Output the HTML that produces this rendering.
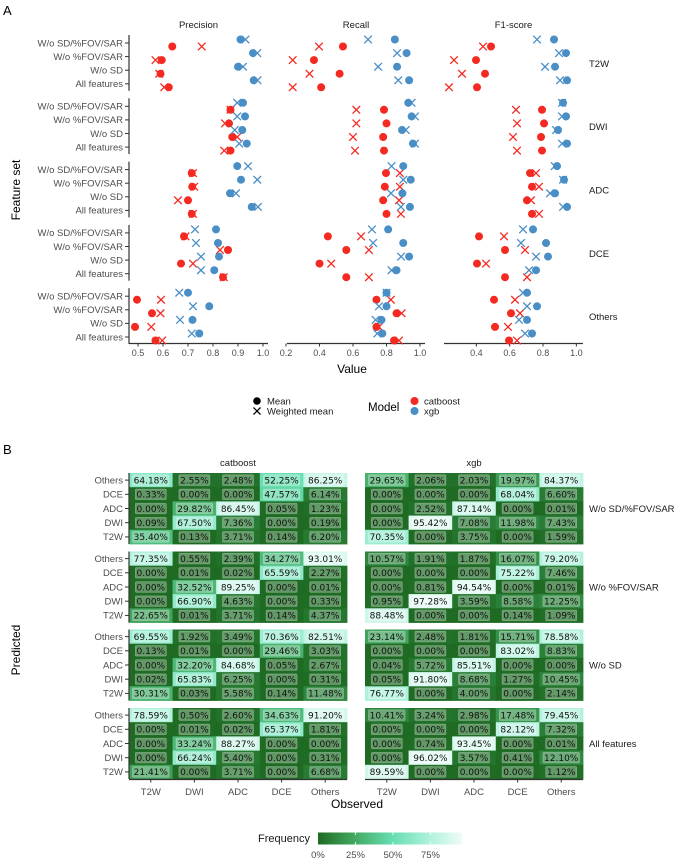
<!DOCTYPE html>
<html><head><meta charset="utf-8"><style>
body{margin:0;background:#fff;}
svg{display:block;font-family:"Liberation Sans",sans-serif;}
</style></head><body>
<svg id="fig" width="685" height="862" viewBox="0 0 685 862" xmlns="http://www.w3.org/2000/svg">
<text x="3" y="15" font-size="13" fill="#000">A</text>
<text x="3" y="454" font-size="13" fill="#000">B</text>
<g id="topPanel"></g>
<g id="bottom"></g>
</svg>
<script>
// ---------- Panel A data ----------
const groups = ["T2W","DWI","ADC","DCE","Others"];
const featureSets = ["W/o SD/%FOV/SAR","W/o %FOV/SAR","W/o SD","All features"];
const metrics = ["Precision","Recall","F1-score"];
const precCatMean = [[0.637,0.595,0.59,0.623],[0.87,0.864,0.877,0.87],[0.715,0.717,0.70,0.715],[0.684,0.86,0.672,0.84],[0.496,0.556,0.488,0.57]];
const precCatW    = [[0.755,0.57,0.585,0.605],[0.87,0.848,0.897,0.845],[0.72,0.725,0.66,0.72],[0.69,0.828,0.72,0.843],[0.592,0.59,0.553,0.597]];
const precXgbMean = [[0.91,0.96,0.90,0.963],[0.92,0.928,0.917,0.935],[0.897,0.912,0.868,0.955],[0.812,0.82,0.824,0.805],[0.70,0.785,0.718,0.745]];
const precXgbW    = [[0.93,0.977,0.92,0.978],[0.897,0.897,0.887,0.905],[0.94,0.977,0.892,0.98],[0.728,0.732,0.752,0.752],[0.665,0.72,0.668,0.715]];
const recCatMean = [[0.54,0.367,0.52,0.41],[0.785,0.80,0.78,0.785],[0.797,0.79,0.78,0.80],[0.45,0.56,0.40,0.56],[0.74,0.86,0.74,0.845]];
const recCatW    = [[0.397,0.24,0.34,0.24],[0.62,0.62,0.60,0.612],[0.88,0.88,0.875,0.886],[0.648,0.695,0.47,0.695],[0.826,0.89,0.755,0.875]];
const recXgbMean = [[0.85,0.92,0.863,0.935],[0.93,0.95,0.893,0.958],[0.90,0.945,0.895,0.94],[0.81,0.90,0.935,0.86],[0.80,0.80,0.77,0.775]];
const recXgbW    = [[0.69,0.863,0.75,0.87],[0.95,0.97,0.915,0.97],[0.83,0.90,0.827,0.886],[0.713,0.72,0.887,0.83],[0.80,0.755,0.735,0.745]];
const f1CatMean = [[0.488,0.398,0.452,0.404],[0.794,0.806,0.788,0.794],[0.722,0.734,0.704,0.734],[0.416,0.572,0.404,0.572],[0.506,0.608,0.512,0.596]];
const f1CatW    = [[0.44,0.266,0.314,0.236],[0.638,0.644,0.62,0.644],[0.758,0.776,0.728,0.776],[0.566,0.692,0.458,0.704],[0.632,0.662,0.59,0.644]];
const f1XgbMean = [[0.866,0.938,0.872,0.944],[0.92,0.938,0.89,0.944],[0.884,0.926,0.872,0.944],[0.74,0.818,0.83,0.758],[0.704,0.764,0.704,0.734]];
const f1XgbW    = [[0.764,0.896,0.812,0.902],[0.914,0.914,0.878,0.914],[0.87,0.92,0.842,0.92],[0.68,0.668,0.758,0.716],[0.68,0.704,0.656,0.692]];
const precTicks = [0.5,0.6,0.7,0.8,0.9,1.0];
const recTicks = [0.2,0.4,0.6,0.8,1.0];
const f1Ticks = [0.4,0.6,0.8,1.0];

// ---------- Panel B data ----------
const predLabels = ["Others","DCE","ADC","DWI","T2W"];
const obsLabels = ["T2W","DWI","ADC","DCE","Others"];
const models = ["catboost","xgb"];
const legendTicks = ["0%","25%","50%","75%"];
const cat1 = [[64.18,2.55,2.48,52.25,86.25],[0.33,0.00,0.00,47.57,6.14],[0.00,29.82,86.45,0.05,1.23],[0.09,67.50,7.36,0.00,0.19],[35.40,0.13,3.71,0.14,6.20]];
const cat2 = [[77.35,0.55,2.39,34.27,93.01],[0.00,0.01,0.02,65.59,2.27],[0.00,32.52,89.25,0.00,0.01],[0.00,66.90,4.63,0.00,0.33],[22.65,0.01,3.71,0.14,4.37]];
const cat3 = [[69.55,1.92,3.49,70.36,82.51],[0.13,0.01,0.00,29.46,3.03],[0.00,32.20,84.68,0.05,2.67],[0.02,65.83,6.25,0.00,0.31],[30.31,0.03,5.58,0.14,11.48]];
const cat4 = [[78.59,0.50,2.60,34.63,91.20],[0.00,0.01,0.02,65.37,1.81],[0.00,33.24,88.27,0.00,0.00],[0.00,66.24,5.40,0.00,0.31],[21.41,0.00,3.71,0.00,6.68]];
const xgb1 = [[29.65,2.06,2.03,19.97,84.37],[0.00,0.00,0.00,68.04,6.60],[0.00,2.52,87.14,0.00,0.01],[0.00,95.42,7.08,11.98,7.43],[70.35,0.00,3.75,0.00,1.59]];
const xgb2 = [[10.57,1.91,1.87,16.07,79.20],[0.00,0.00,0.00,75.22,7.46],[0.00,0.81,94.54,0.00,0.01],[0.95,97.28,3.59,8.58,12.25],[88.48,0.00,0.00,0.14,1.09]];
const xgb3 = [[23.14,2.48,1.81,15.71,78.58],[0.00,0.00,0.00,83.02,8.83],[0.04,5.72,85.51,0.00,0.00],[0.05,91.80,8.68,1.27,10.45],[76.77,0.00,4.00,0.00,2.14]];
const xgb4 = [[10.41,3.24,2.98,17.48,79.45],[0.00,0.00,0.00,82.12,7.32],[0.00,0.74,93.45,0.00,0.01],[0.00,96.02,3.57,0.41,12.10],[89.59,0.00,0.00,0.00,1.12]];

const NS="http://www.w3.org/2000/svg";
function mk(parent, tag, attrs, txt){const el=document.createElementNS(NS,tag);for(const k in attrs)el.setAttribute(k,attrs[k]);if(txt!==undefined)el.textContent=txt;parent.appendChild(el);return el;}
const RED="#f42a22", BLUE="#4a8ec6", GREY="#4d4d4d";

// ---------- Panel A ----------
const topG=document.getElementById('topPanel');
const scales=[
 {x0:129,x1:268,f:v=>138+(v-0.5)*250,ticks:precTicks},
 {x0:287,x1:425,f:v=>286+(v-0.2)*167.5,ticks:recTicks},
 {x0:444,x1:583,f:v=>443+(v-0.2)*166.7,ticks:f1Ticks}];
const series=[[precCatMean,precCatW,precXgbMean,precXgbW],[recCatMean,recCatW,recXgbMean,recXgbW],[f1CatMean,f1CatW,f1XgbMean,f1XgbW]];
const rowY=(g,r)=>43+63.3*g+13.6*r;
metrics.forEach((m,mi)=>{
  const s=scales[mi];
  const t=mk(topG,'text',{x:(s.x0+s.x1)/2,y:28,'font-size':9.5,fill:'#1a1a1a','text-anchor':'middle'},m);
  
  
  const ax=mk(topG,'line',{x1:s.x0,x2:s.x1,y1:343.5,y2:343.5,stroke:'#333','stroke-width':1.2});
  
  
  s.ticks.forEach(tv=>{
    const x=s.f(tv);
    mk(topG,'line',{x1:x,x2:x,y1:343.5,y2:346.5,stroke:'#333','stroke-width':1});
    const tl=mk(topG,'text',{x:x,y:356,'font-size':9,fill:GREY,'text-anchor':'middle'},tv.toFixed(1));
    
    
  });
  groups.forEach((g,gi)=>{
    for(let r=0;r<4;r++){
      const y=rowY(gi,r);
      const defs=[[0,RED,'dot',3.5],[1,RED,'x',3.5],[2,BLUE,'dot',-3.5],[3,BLUE,'x',-3.5]];
      defs.forEach(([k,col,shape,dy])=>{
        const x=s.f(series[mi][k][gi][r]), yy=y+dy;
        let el;
        if(shape==='dot'){
          el=mk(topG,'circle',{cx:x,cy:yy,r:4,fill:col});
          
        } else {
          el=mk(topG,'path',{d:`M${x-3.8},${yy-3.8}L${x+3.8},${yy+3.8}M${x-3.8},${yy+3.8}L${x+3.8},${yy-3.8}`,stroke:col,'stroke-width':1.3,fill:'none'});
          
        }
        
      });
    }
  });
});
groups.forEach((g,gi)=>{
  const yTop=rowY(gi,0)-8, yBot=rowY(gi,3)+7;
  const yl=mk(topG,'line',{x1:129,x2:129,y1:yTop,y2:yBot,stroke:'#333','stroke-width':1.2});
  
  
  featureSets.forEach((f,r)=>{
    const y=rowY(gi,r);
    mk(topG,'line',{x1:125,x2:129,y1:y,y2:y,stroke:'#333','stroke-width':1});
    const tl=mk(topG,'text',{x:123,y:y+3.3,'font-size':9.5,fill:GREY,'text-anchor':'end'},f);
    
    
  });
  const st=mk(topG,'text',{x:589,y:(rowY(gi,0)+rowY(gi,3))/2+3.5,'font-size':9.5,fill:'#1a1a1a'},g);
  
  
});
let e;
e=mk(topG,'text',{x:352,y:373,'font-size':12,fill:'#000','text-anchor':'middle'},'Value');


e=mk(topG,'text',{x:0,y:0,'font-size':12,fill:'#000','text-anchor':'middle',transform:'translate(20,190) rotate(-90)'},'Feature set');


e=mk(topG,'circle',{cx:257,cy:401,r:3.8,fill:'#000'});


e=mk(topG,'path',{d:'M253.5,407.5L260.5,414.5M253.5,414.5L260.5,407.5',stroke:'#000','stroke-width':1.3});


e=mk(topG,'text',{x:267,y:404.5,'font-size':9.5,fill:'#1a1a1a'},'Mean');


e=mk(topG,'text',{x:267,y:414.5,'font-size':9.5,fill:'#1a1a1a'},'Weighted mean');


e=mk(topG,'text',{x:368,y:411,'font-size':11.5,fill:'#000'},'Model');


e=mk(topG,'circle',{cx:414.5,cy:401,r:4,fill:RED});


e=mk(topG,'circle',{cx:414.5,cy:411,r:4,fill:BLUE});


e=mk(topG,'text',{x:424,y:404.5,'font-size':9.5,fill:'#1a1a1a'},'catboost');


e=mk(topG,'text',{x:424,y:414.5,'font-size':9.5,fill:'#1a1a1a'},'xgb');



// ---------- Panel B ----------
const bot=document.getElementById('bottom');
const stops=[[0,[31,107,36]],[0.25,[67,168,96]],[0.5,[99,220,172]],[0.75,[168,240,217]],[1,[238,252,248]]];
function col(p){const v=Math.max(0,Math.min(1,p/100));for(let i=1;i<stops.length;i++){if(v<=stops[i][0]){const a=stops[i-1],b=stops[i];const t=(v-a[0])/(b[0]-a[0]);const c=a[1].map((x,j)=>Math.round(x+(b[1][j]-x)*t));return `rgb(${c})`;}}return 'rgb(238,252,248)';}
const mats=[[cat1,cat2,cat3,cat4],[xgb1,xgb2,xgb3,xgb4]];
const panelX=[129,365], cellW=43.6, cellH=14.2, panelTops=[473,551.5,629.5,708];
const fsLabels=["W/o SD/%FOV/SAR","W/o %FOV/SAR","W/o SD","All features"];
models.forEach((m,mi)=>{
  const x0=panelX[mi];
  e=mk(bot,'text',{x:x0+cellW*2.5,y:466,'font-size':9.5,fill:'#1a1a1a','text-anchor':'middle'},m);
  
  
  panelTops.forEach((y0,pi)=>{
    const M=mats[mi][pi];
    M.forEach((row,ri)=>row.forEach((v,ci)=>{
      const x=x0+ci*cellW, y=y0+ri*cellH;
      const r=mk(bot,'rect',{x:x,y:y,width:cellW+0.4,height:cellH+0.4,fill:col(v)});
      
      
      const txt=v.toFixed(2)+'%';
      const w=txt.length*5.6+3;
      const b=mk(bot,'rect',{x:x+cellW/2-w/2,y:y+1.8,width:w,height:cellH-3.6,fill:'rgba(255,255,255,0.3)',stroke:'rgba(255,255,255,0.35)','stroke-width':0.6,rx:1});
      
      
      const t=mk(bot,'text',{x:x+cellW/2,y:y+cellH/2+3.3,'font-size':9,fill:'#111','text-anchor':'middle','font-family':'"DejaVu Sans",sans-serif'},txt);
      
      
    }));
    if(mi===0){
      const yl=mk(bot,'line',{x1:129,x2:129,y1:y0,y2:y0+cellH*5,stroke:'#333','stroke-width':1.2});
      
      
      predLabels.forEach((p,ri)=>{
        const y=y0+ri*cellH+cellH/2;
        mk(bot,'line',{x1:125,x2:129,y1:y,y2:y,stroke:'#333','stroke-width':1});
        const tl=mk(bot,'text',{x:123,y:y+3.3,'font-size':9.5,fill:GREY,'text-anchor':'end'},p);
        
        
      });
    } else {
      const st=mk(bot,'text',{x:589,y:y0+cellH*2.5+3.5,'font-size':9.5,fill:'#1a1a1a'},fsLabels[pi]);
      
      
    }
  });
  const axY=708+cellH*5+0.5;
  e=mk(bot,'line',{x1:x0,x2:x0+cellW*5,y1:axY,y2:axY,stroke:'#333','stroke-width':1.2});
  
  
  obsLabels.forEach((o,ci)=>{
    const x=x0+ci*cellW+cellW/2;
    mk(bot,'line',{x1:x,x2:x,y1:axY,y2:axY+3,stroke:'#333','stroke-width':1});
    const tl=mk(bot,'text',{x:x,y:795,'font-size':9.5,fill:GREY,'text-anchor':'middle'},o);
    
    
  });
});
e=mk(bot,'text',{x:357,y:808,'font-size':12,fill:'#000','text-anchor':'middle'},'Observed');


e=mk(bot,'text',{x:0,y:0,'font-size':12,fill:'#000','text-anchor':'middle',transform:'translate(20,650) rotate(-90)'},'Predicted');


const defsEl=mk(document.getElementById('fig'),'defs',{});
const lg=mk(defsEl,'linearGradient',{id:'lg',x1:0,x2:1,y1:0,y2:0});
stops.forEach(s=>mk(lg,'stop',{offset:s[0],'stop-color':`rgb(${s[1]})`}));
e=mk(bot,'text',{x:310,y:842,'font-size':11,fill:'#1a1a1a','text-anchor':'end'},'Frequency');


const lx0=318, lw=150;
e=mk(bot,'rect',{x:lx0,y:832.5,width:lw*0.96,height:12,fill:'url(#lg)'});


legendTicks.forEach((t,i)=>{
  const x=lx0+i*0.25*lw;
  if(i>0){mk(bot,'line',{x1:x,x2:x,y1:832.5,y2:835,stroke:'#fff','stroke-width':0.8});mk(bot,'line',{x1:x,x2:x,y1:842,y2:844.5,stroke:'#fff','stroke-width':0.8});}
  const tl=mk(bot,'text',{x:x,y:858,'font-size':9.5,fill:GREY,'text-anchor':'middle'},t);
  
  
});
</script>
</body></html>
